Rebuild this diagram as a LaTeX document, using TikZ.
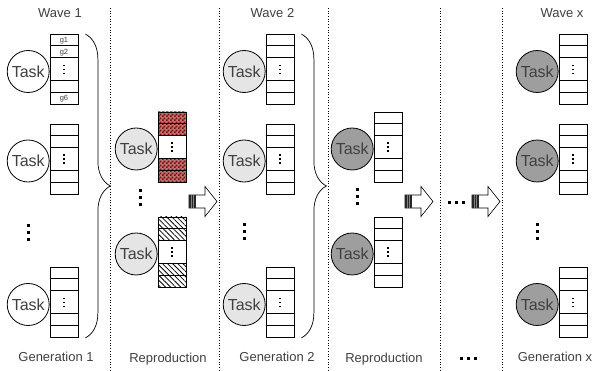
\documentclass[tikz,border=0pt]{standalone}
\usepackage{fontspec}
\setmainfont{Liberation Sans}
\usetikzlibrary{positioning,decorations.pathreplacing,patterns,patterns.meta}

\definecolor{taskLight}{gray}{0.9}
\definecolor{taskDark}{gray}{0.62}
\definecolor{labelGray}{gray}{0.25}
\definecolor{checkRed}{RGB}{130,5,5}

\pgfdeclarepatternformonly{fine checks}{\pgfpointorigin}{\pgfqpoint{3.6pt}{3.6pt}}{\pgfqpoint{3.6pt}{3.6pt}}{%
  \pgfpathrectangle{\pgfpointorigin}{\pgfqpoint{1.8pt}{1.8pt}}%
  \pgfpathrectangle{\pgfqpoint{1.8pt}{1.8pt}}{\pgfqpoint{1.8pt}{1.8pt}}%
  \pgfusepath{fill}}

\begin{document}
\begin{tikzpicture}[x=1pt, y=-1pt,
    task/.style={circle, draw, line width=0.8pt, minimum size=42pt, inner sep=0pt, text=labelGray, font=\fontsize{16}{16}\selectfont},
    gene/.style={rectangle, draw, line width=0.8pt, minimum width=28pt, minimum height=70pt, inner sep=0pt},
    lbl/.style={text=labelGray, font=\fontsize{13}{14}\selectfont, anchor=base},
    gtag/.style={text=labelGray, font=\fontsize{7.5}{8}\selectfont, inner sep=0pt},
    sep/.style={dotted, line width=0.7pt},
    gbrace/.style={decorate, decoration={brace, amplitude=25pt}, line width=0.7pt},
    checkfill/.style={fill=checkRed!55, postaction={pattern=fine checks, pattern color=checkRed}},
    hatchfill/.style={pattern={Lines[angle=-45, distance=3.6pt, line width=0.8pt]}},
    nofill/.style={},
    vdots/.pic={\foreach \k in {-7,0,7} \fill (-1.5,\k-1.5) rectangle ++(3,3);},
    hdots/.pic={\foreach \k in {-7,0,7} \fill (\k-1.5,-1.5) rectangle ++(3,3);},
    celldots/.pic={\foreach \k in {-4,0,4} \fill (-0.9,\k-0.9) rectangle ++(1.8,1.8);},
    blockarrow/.pic={
      \draw[line width=0.6pt, fill=white] (0,-6.5) -- (16,-6.5) -- (16,-15) -- (28,0) -- (16,15) -- (16,6.5) -- (0,6.5) -- cycle;
      \fill[black!85] (0,-6.5) rectangle (7,6.5);
      \foreach \s in {2.3,4.6} \draw[gray, line width=0.5pt] (\s,-6.5) -- (\s,6.5);
    }
]
  \useasboundingbox (0,0) rectangle (594,371);

  % column separators
  \foreach \sx in {110,219,328,440,502}
    \draw[sep] (\sx,8) -- (\sx,371);

  % generations
  \foreach \bx/\col/\nm in {64/white/a, 280/taskLight/b, 573/taskDark/c}
    \foreach \by [count=\i] in {69.5,159,302.5} {
      \node[gene] (\nm g\i) at (\bx,\by) {};
      \foreach \f in {1,2,4,5}
        \draw[line width=0.8pt] (\nm g\i.north west) ++(0,\f*70/6) -- ++(28,0);
      \pic at (\nm g\i) {celldots};
      \node[task, fill=\col, left=0pt of \nm g\i, yshift=-2pt] (\nm t\i) {Task};
    }

  % reproductions
  \foreach \bx/\col/\nm/\patA/\patB in {172/taskLight/r/checkfill/hatchfill, 388/taskDark/s/nofill/nofill}
    \foreach \by/\pat [count=\i] in {147/\patA, 252/\patB} {
      \path[\pat] (\bx-14,\by-35) rectangle ++(28,70/3);
      \path[\pat] (\bx-14,\by+35) rectangle ++(28,-70/3);
      \node[gene] (\nm g\i) at (\bx,\by) {};
      \foreach \f in {1,2,4,5}
        \draw[line width=0.8pt] (\nm g\i.north west) ++(0,\f*70/6) -- ++(28,0);
      \pic at (\nm g\i) {celldots};
      \node[task, fill=\col, left=0pt of \nm g\i, yshift=-2pt] (\nm t\i) {Task};
    }

  % gene tags
  \node[gtag] (tg1) at (64,40.8) {g1};
  \node[gtag] (tg2) at (64,52.5) {g2};
  \node[gtag] (tg6) at (64,98.2) {g6};

  % braces
  \draw[gbrace] ([xshift=7pt]ag1.north east) -- ([xshift=7pt]ag3.south east);
  \draw[gbrace] ([xshift=7pt]bg1.north east) -- ([xshift=7pt]bg3.south east);

  % dots
  \foreach \dx/\dy in {28/233, 244/232, 537/232, 140/198, 357/197}
    \pic at (\dx,\dy) {vdots};
  \pic at (456,203) {hdots};
  \pic at (468,358) {hdots};

  % arrows
  \foreach \ax in {189,405,472}
    \pic at (\ax,201.5) {blockarrow};

  % labels
  \node[lbl] (w1) at (60,18) {Wave 1};
  \node[lbl] (w2) at (272.5,18) {Wave 2};
  \node[lbl] (wx) at (562,18) {Wave x};
  \node[lbl] (gen1) at (56,361) {Generation 1};
  \node[lbl] (rep1) at (168,362) {Reproduction};
  \node[lbl] (gen2) at (277,361) {Generation 2};
  \node[lbl] (rep2) at (384,362) {Reproduction};
  \node[lbl] (genx) at (555,361) {Generation x};
\end{tikzpicture}
\end{document}
